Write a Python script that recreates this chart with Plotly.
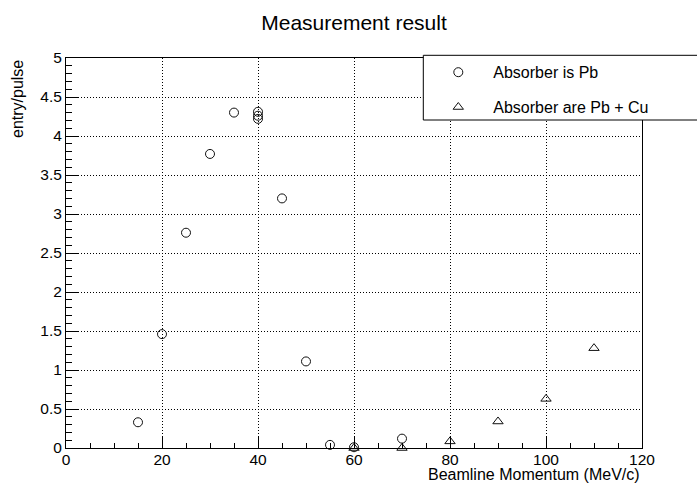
import plotly.graph_objects as go

# Data
pb_momentum = [15, 20, 25, 30, 35, 40, 40, 40, 45, 50, 55, 60, 70]
pb_entry = [0.33, 1.46, 2.76, 3.77, 4.30, 4.31, 4.26, 4.22, 3.20, 1.11, 0.04, 0.01, 0.12]

pbcu_momentum = [60, 70, 80, 90, 100, 110]
pbcu_entry = [0.0, 0.0, 0.085, 0.34, 0.63, 1.28]

x_ticks = [0, 20, 40, 60, 80, 100, 120]
y_ticks = [0, 0.5, 1, 1.5, 2, 2.5, 3, 3.5, 4, 4.5, 5]
y_tick_labels = ["0", "0.5", "1", "1.5", "2", "2.5", "3", "3.5", "4", "4.5", "5"]

FONT = "Liberation Sans, Arial, Helvetica, sans-serif"

fig = go.Figure()
fig.add_trace(go.Scatter(
    x=pb_momentum, y=pb_entry, mode="markers", name="Absorber is Pb",
    legendgroup="a",
    marker=dict(symbol="circle-open", size=9, color="#111", line=dict(width=1, color="#111")),
    cliponaxis=False,
))
fig.add_trace(go.Scatter(
    x=pbcu_momentum, y=pbcu_entry, mode="markers", name="Absorber are Pb + Cu",
    legendgroup="b",
    marker=dict(symbol="triangle-up-open", size=9, color="#111", line=dict(width=1, color="#111")),
    cliponaxis=False,
))

axis_common = dict(
    showline=True, linecolor="black", linewidth=1, mirror=True,
    ticks="inside", ticklen=12, tickwidth=1, tickcolor="black",
    showgrid=True, gridcolor="#000", gridwidth=1, griddash="1px,2px",
    zeroline=False,
    tickfont=dict(family=FONT, size=15.5, color="black"),
)

fig.update_xaxes(
    range=[0, 120], tickmode="array", tickvals=x_ticks,
    ticktext=[str(v) for v in x_ticks], ticklabelstandoff=-3,
    minor=dict(dtick=5, ticks="inside", ticklen=5, tickcolor="black", showgrid=False),
    **axis_common,
)
fig.update_yaxes(
    range=[0, 5], tickmode="array", tickvals=y_ticks, ticktext=y_tick_labels,
    minor=dict(dtick=0.1, ticks="inside", ticklen=6, tickcolor="black", showgrid=False),
    **axis_common,
)

# Legend frame (extends past the right edge like the reference)
fig.add_shape(
    type="rect", xref="paper", yref="paper",
    x0=(423.3 - 66) / 576, x1=1.2, y0=(448 - 120) / 390, y1=(448 - 55.3) / 390,
    line=dict(color="black", width=1), fillcolor="white", layer="above",
)

fig.update_layout(
    width=697, height=484,
    margin=dict(l=66, r=55, t=58, b=36),
    paper_bgcolor="white", plot_bgcolor="white",
    font=dict(family=FONT, color="black"),
    title=dict(text="Measurement result", x=0.5, xref="paper", xanchor="center",
               y=1 - 23 / 484, yanchor="middle",
               font=dict(family=FONT, size=21, color="black")),
    showlegend=True,
    legend=dict(
        x=(423.3 - 66) / 576, y=(448 - 55.3) / 390, xanchor="left", yanchor="top",
        bgcolor="rgba(0,0,0,0)", borderwidth=0, itemwidth=60,
        tracegroupgap=11,
        font=dict(family=FONT, size=16, color="black"),
    ),
    annotations=[
        dict(text="Beamline Momentum (MeV/c)", xref="paper", yref="paper",
             x=1, y=0, xanchor="right", yanchor="middle", yshift=-26, showarrow=False,
             font=dict(family=FONT, size=16, color="black")),
        dict(text="entry/pulse", xref="paper", yref="paper", textangle=-90,
             x=0, y=1, xanchor="center", yanchor="top", xshift=-49, showarrow=False,
             font=dict(family=FONT, size=16, color="black")),
    ],
)

fig.write_html("out.html")
